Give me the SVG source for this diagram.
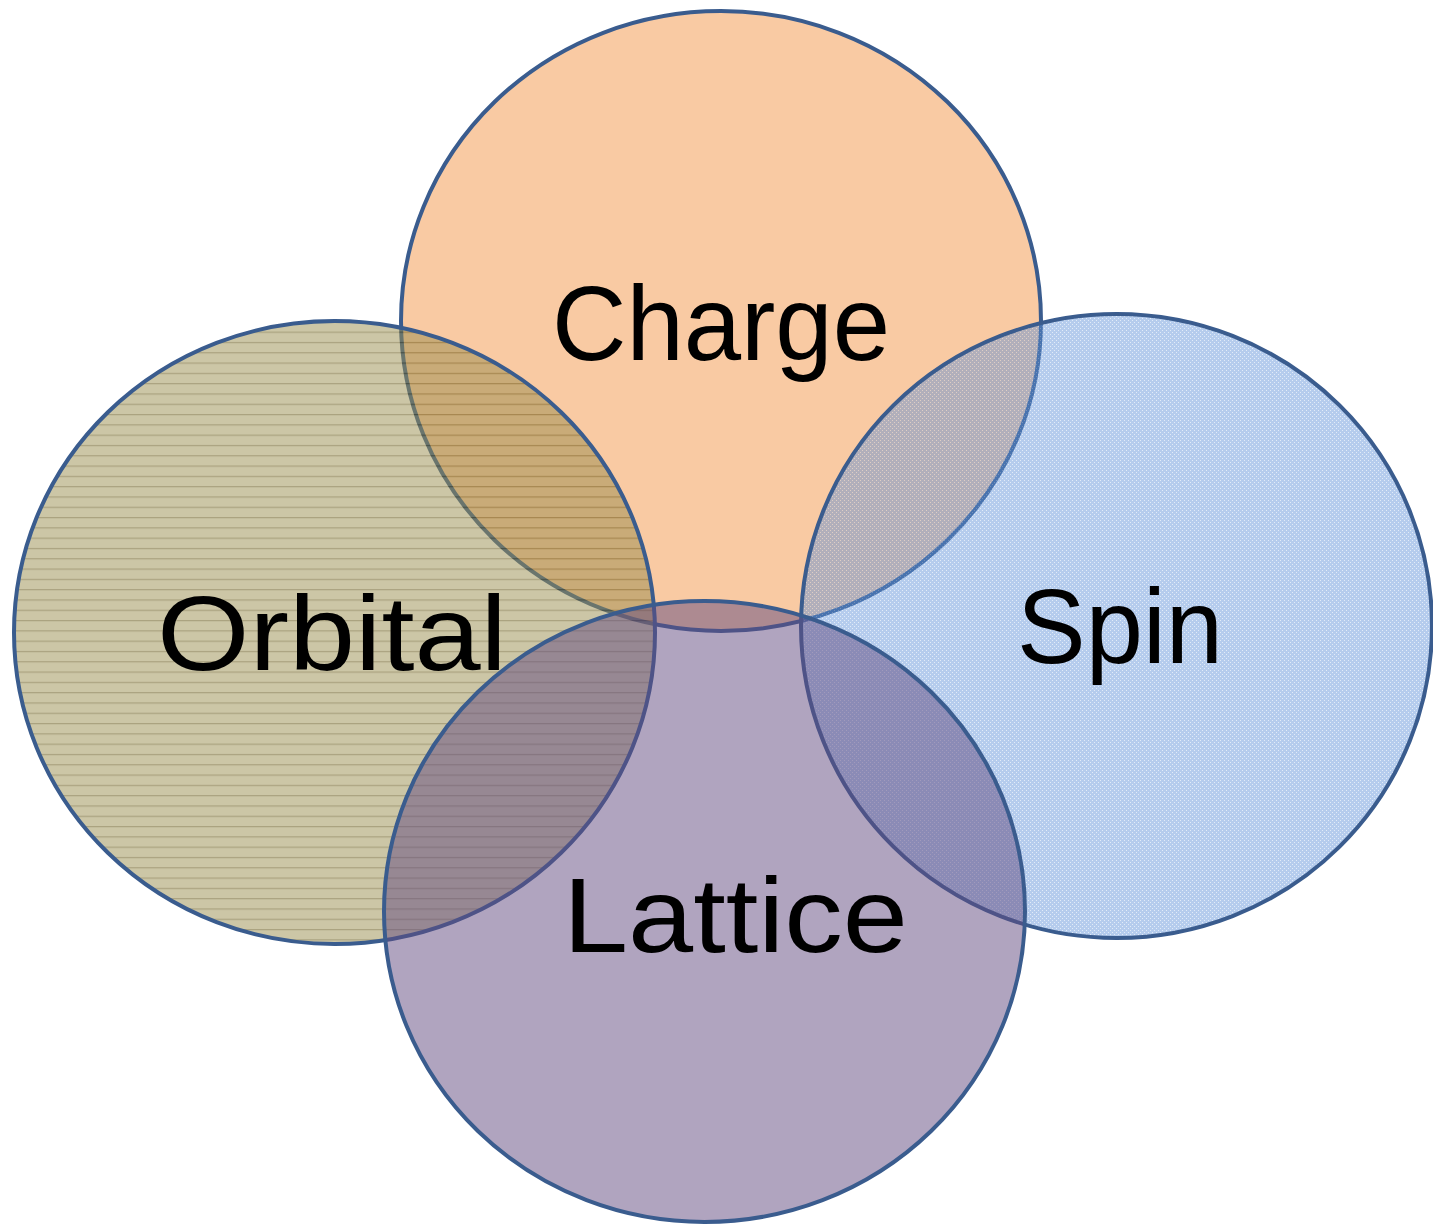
<svg xmlns="http://www.w3.org/2000/svg" width="1433" height="1227" viewBox="0 0 1433 1227">
  <style>
    .ring { stroke: #3A5C8E; stroke-width: 4; }
    .label { font-family: "Liberation Sans", Arial, sans-serif; font-size: 106px; fill: #000000; }
  </style>
  <defs>
    <pattern id="orbLines" patternUnits="userSpaceOnUse" x="0" y="2" width="20" height="10.3">
      <rect x="0" y="0" width="20" height="10.3" fill="#998D4D"/>
      <rect x="0" y="0" width="20" height="1.2" fill="#554500"/>
    </pattern>
    <pattern id="spinDots" patternUnits="userSpaceOnUse" width="4" height="4">
      <rect x="0" y="0" width="4" height="4" fill="#5A8FD8"/>
      <rect x="0" y="0" width="1" height="1" fill="#FFFFFF" fill-opacity="0.6"/>
      <rect x="2" y="2" width="1" height="1" fill="#FFFFFF" fill-opacity="0.6"/>
    </pattern>
  </defs>
  <rect x="0" y="0" width="1433" height="1227" fill="#FFFFFF"/>
  <g id="charge">
    <ellipse class="ring" cx="721" cy="321" rx="320" ry="310" fill="#F9CAA3"/>
  </g>
  <g id="orbital">
    <ellipse class="ring" cx="334.5" cy="632.5" rx="320.5" ry="311.5" fill="url(#orbLines)" fill-opacity="0.5"/>
  </g>
  <g id="spin">
    <ellipse class="ring" cx="1116.5" cy="626" rx="315.5" ry="312" fill="url(#spinDots)" fill-opacity="0.45"/>
  </g>
  <g id="lattice">
    <ellipse class="ring" cx="704.5" cy="911.5" rx="320.5" ry="310.5" fill="#61497F" fill-opacity="0.5"/>
  </g>
  <g id="labels">
    <text class="label" x="552" y="360" textLength="338" lengthAdjust="spacingAndGlyphs">Charge</text>
    <text class="label" x="157" y="670" textLength="350" lengthAdjust="spacingAndGlyphs">Orbital</text>
    <text class="label" x="1017" y="663" textLength="206" lengthAdjust="spacingAndGlyphs">Spin</text>
    <text class="label" x="563" y="952" textLength="345" lengthAdjust="spacingAndGlyphs">Lattice</text>
  </g>
</svg>
